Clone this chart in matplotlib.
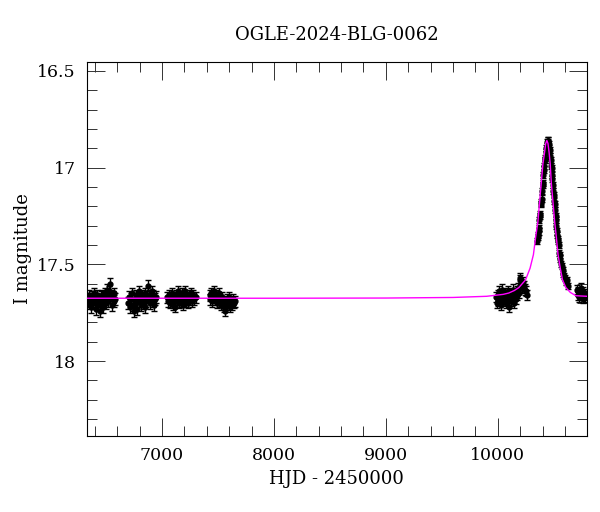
import matplotlib
matplotlib.use("Agg")
import matplotlib.pyplot as plt
from matplotlib.ticker import MultipleLocator, FormatStrFormatter
import numpy as np

plt.rcParams['font.family'] = ['DejaVu Serif']

title = "OGLE-2024-BLG-0062"

# observing seasons: HJD-2450000, I mag
t_s1 = [6340, 6348, 6355, 6362, 6370, 6377, 6385, 6392, 6400, 6408, 6415, 6423, 6430, 6438, 6446, 6453, 6461,
        6468, 6476, 6484, 6491, 6499, 6506, 6514, 6521, 6529, 6537, 6544, 6552, 6560, 6568, 6575, 6583]
m_s1 = [17.69, 17.66, 17.70, 17.68, 17.72, 17.67, 17.69, 17.65, 17.70, 17.73, 17.68, 17.66, 17.71, 17.69, 17.74, 17.67, 17.70,
        17.66, 17.72, 17.68, 17.65, 17.70, 17.63, 17.67, 17.69, 17.64, 17.60, 17.66, 17.71, 17.67, 17.69, 17.65, 17.68]

t_s2 = [6700, 6708, 6716, 6724, 6732, 6740, 6748, 6756, 6764, 6772, 6780, 6788, 6796, 6804, 6812, 6820,
        6828, 6836, 6844, 6852, 6860, 6868, 6876, 6884, 6892, 6900, 6908, 6916, 6924, 6932, 6940, 6948]
m_s2 = [17.70, 17.67, 17.72, 17.68, 17.65, 17.71, 17.74, 17.69, 17.66, 17.70, 17.73, 17.67, 17.64, 17.69, 17.71, 17.66,
        17.70, 17.68, 17.72, 17.65, 17.69, 17.67, 17.61, 17.66, 17.70, 17.68, 17.64, 17.69, 17.66, 17.71, 17.68, 17.67]

t_s3 = [7048, 7056, 7064, 7072, 7080, 7088, 7096, 7104, 7112, 7120, 7128, 7136, 7144, 7152, 7160, 7168,
        7176, 7184, 7192, 7200, 7208, 7216, 7224, 7232, 7240, 7248, 7256, 7264, 7272, 7280, 7290, 7300]
m_s3 = [17.67, 17.69, 17.66, 17.70, 17.68, 17.65, 17.71, 17.67, 17.69, 17.72, 17.66, 17.68, 17.64, 17.70, 17.67, 17.69,
        17.65, 17.71, 17.68, 17.66, 17.64, 17.69, 17.67, 17.70, 17.66, 17.68, 17.65, 17.69, 17.67, 17.66, 17.68, 17.67]

t_s4 = [7425, 7433, 7441, 7449, 7457, 7465, 7473, 7481, 7489, 7497, 7505, 7513, 7521, 7529, 7537,
        7545, 7553, 7561, 7569, 7577, 7585, 7593, 7601, 7609, 7617, 7625, 7633, 7641, 7649]
m_s4 = [17.66, 17.68, 17.65, 17.69, 17.67, 17.64, 17.68, 17.66, 17.70, 17.67, 17.65, 17.69, 17.68, 17.71, 17.67,
        17.70, 17.72, 17.74, 17.69, 17.71, 17.68, 17.70, 17.67, 17.72, 17.69, 17.71, 17.68, 17.70, 17.69]

t_s5 = [9985, 9992, 9999, 10006, 10013, 10020, 10027, 10034, 10041, 10048, 10055, 10062, 10069, 10076, 10083,
        10090, 10097, 10104, 10111, 10118, 10125, 10132, 10139, 10146, 10153, 10160, 10167, 10174, 10181, 10188,
        10195, 10202, 10209, 10216, 10223, 10230, 10240, 10255, 10265]
m_s5 = [17.67, 17.70, 17.66, 17.69, 17.64, 17.68, 17.71, 17.66, 17.63, 17.69, 17.67, 17.65, 17.70, 17.66, 17.68,
        17.64, 17.67, 17.72, 17.65, 17.69, 17.66, 17.63, 17.67, 17.70, 17.65, 17.68, 17.64, 17.66, 17.62, 17.65,
        17.58, 17.57, 17.60, 17.62, 17.59, 17.61, 17.63, 17.64, 17.66]

t_s6 = [10352, 10356, 10360, 10364, 10368, 10372, 10376, 10380, 10384, 10388, 10392, 10396, 10400, 10404, 10408,
        10412, 10416, 10420, 10424, 10428, 10432, 10436, 10440, 10444, 10448, 10452, 10456, 10460, 10464, 10468,
        10472, 10476, 10480, 10484, 10488, 10492, 10496, 10500, 10504, 10508, 10512, 10516, 10520, 10524, 10528,
        10532, 10536, 10540, 10545, 10550, 10555, 10560, 10566, 10572, 10578, 10585, 10592, 10600, 10610, 10620, 10628]
m_s6 = [17.38, 17.35, 17.36, 17.31, 17.33, 17.27, 17.25, 17.24, 17.19, 17.18, 17.16, 17.12, 17.09, 17.08, 17.04,
        17.01, 16.99, 16.96, 16.95, 16.92, 16.90, 16.89, 16.87, 16.86, 16.87, 16.86, 16.88, 16.90, 16.91, 16.94,
        16.96, 16.99, 17.00, 17.04, 17.06, 17.09, 17.12, 17.14, 17.17, 17.19, 17.22, 17.25, 17.27, 17.30, 17.33,
        17.35, 17.37, 17.38, 17.40, 17.44, 17.45, 17.47, 17.50, 17.51, 17.53, 17.55, 17.56, 17.57, 17.59, 17.58, 17.61]

t_s7 = [10705, 10712, 10720, 10728, 10735, 10742, 10750, 10757, 10765, 10772, 10780, 10788]
m_s7 = [17.63, 17.66, 17.64, 17.67, 17.65, 17.62, 17.66, 17.64, 17.68, 17.65, 17.67, 17.66]

# typical error per season
err_seasons = [0.030, 0.030, 0.028, 0.028, 0.026, 0.016, 0.022]

# model curve
t_model = [6300, 8000, 9000, 9600, 9900, 10048, 10098, 10148, 10188, 10218, 10248, 10288, 10318, 10338,
           10358, 10373, 10388, 10403, 10418, 10428, 10438, 10448, 10458, 10468, 10478, 10493, 10508, 10523,
           10538, 10558, 10578, 10608, 10648, 10698, 10798, 10850]
m_model = [17.675, 17.675, 17.674, 17.671, 17.665, 17.655, 17.648, 17.635, 17.62, 17.60, 17.58, 17.52, 17.45,
           17.36, 17.28, 17.18, 17.08, 16.98, 16.92, 16.875, 16.86, 16.875, 16.92, 16.98, 17.08, 17.18, 17.28,
           17.36, 17.45, 17.52, 17.58, 17.62, 17.645, 17.662, 17.665, 17.668]

seasons = [(t_s1, m_s1), (t_s2, m_s2), (t_s3, m_s3), (t_s4, m_s4), (t_s5, m_s5), (t_s6, m_s6), (t_s7, m_s7)]

fig = plt.figure(figsize=(6, 5.12), dpi=100)
ax = fig.add_axes([0.145, 0.1484, 0.833, 0.7306])

for (t, m), e in zip(seasons, err_seasons):
    ax.errorbar(t, m, yerr=e, fmt='o', color='black', ms=3.5, capsize=2.5,
                elinewidth=1, capthick=1, zorder=2)

ax.plot(t_model, m_model, color='#ff00ff', lw=1, zorder=3)

ax.set_xlim(6330, 10795)
ax.set_ylim(18.387, 16.454)

ax.xaxis.set_major_locator(MultipleLocator(1000))
ax.xaxis.set_minor_locator(MultipleLocator(200))
ax.yaxis.set_major_locator(MultipleLocator(0.5))
ax.yaxis.set_minor_locator(MultipleLocator(0.1))
ax.yaxis.set_major_formatter(FormatStrFormatter('%g'))
ax.tick_params(which='both', direction='in', top=True, right=True, labelsize=12.5,
               width=0.7, color='#333333')
ax.tick_params(which='major', length=13, pad=8)
ax.tick_params(which='minor', length=7)

ax.set_xlabel("HJD - 2450000", fontsize=13)
ax.set_ylabel("I magnitude", fontsize=13)
ax.set_title(title, fontsize=13, pad=16)

fig.savefig("out.png", dpi=100)
